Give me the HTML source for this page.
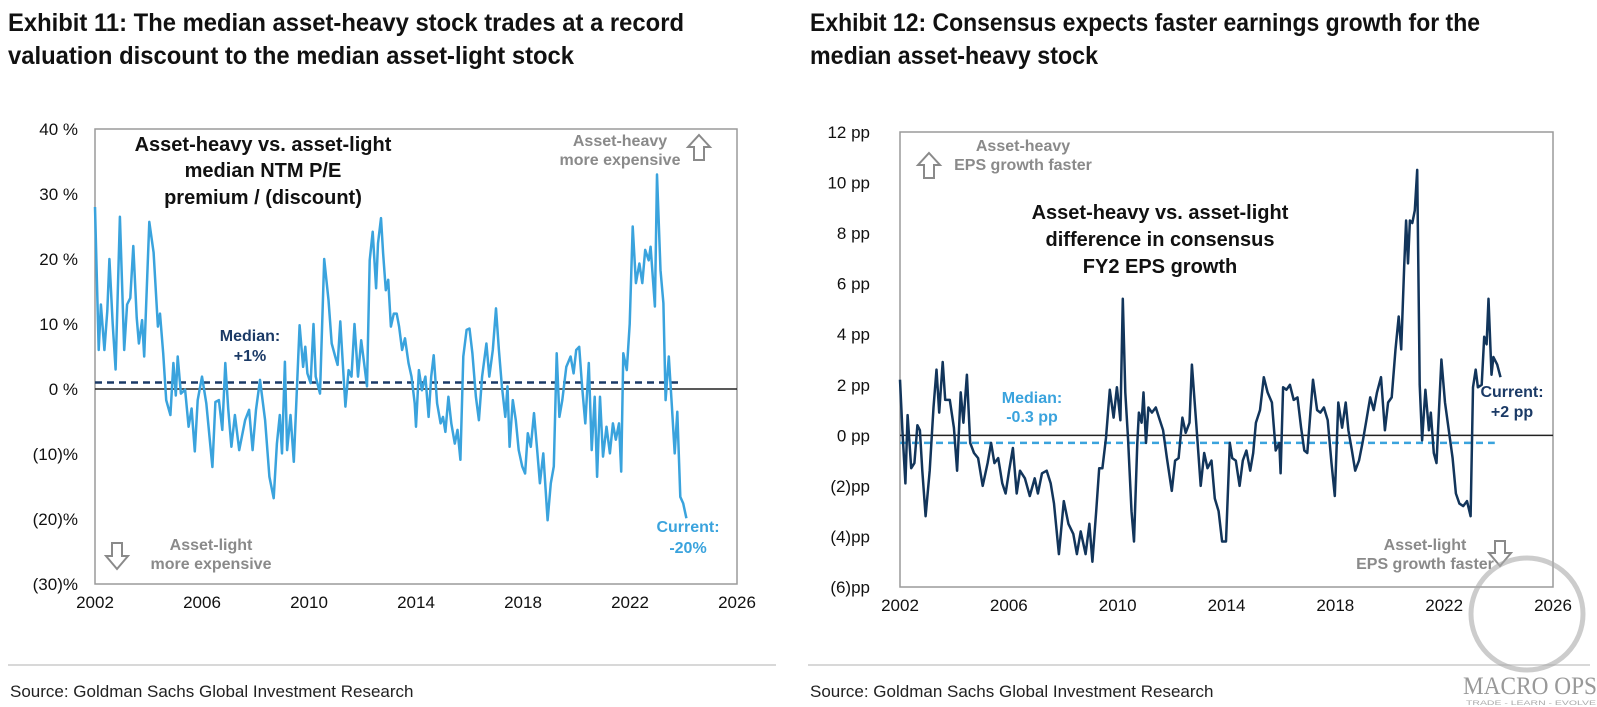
<!DOCTYPE html>
<html><head><meta charset="utf-8"><style>
html,body{margin:0;padding:0;background:#fff;}
svg{display:block;font-family:"Liberation Sans",Arial,sans-serif;}
.t{font-family:"Liberation Sans Narrow","Liberation Sans",sans-serif;font-weight:bold;font-size:25px;fill:#111;}
.src{font-family:"Liberation Sans Narrow","Liberation Sans",sans-serif;font-size:17px;fill:#222;}
.tick{font-size:17px;fill:#111;}
.ann{font-weight:bold;font-size:20px;fill:#111;}
.gray{font-weight:bold;font-size:16px;fill:#8a8a8a;}
</style></head><body>
<svg id="svg" width="1597" height="707" viewBox="0 0 1597 707">
<text class="t" x="8" y="31" textLength="676" lengthAdjust="spacingAndGlyphs">Exhibit 11: The median asset-heavy stock trades at a record</text>
<text class="t" x="8" y="64" textLength="566" lengthAdjust="spacingAndGlyphs">valuation discount to the median asset-light stock</text>
<text class="t" x="810" y="31" textLength="670" lengthAdjust="spacingAndGlyphs">Exhibit 12: Consensus expects faster earnings growth for the</text>
<text class="t" x="810" y="64" textLength="288" lengthAdjust="spacingAndGlyphs">median asset-heavy stock</text>

<g id="left"></g>
<g id="right"></g>

<text class="ann" text-anchor="middle" x="263" y="151">Asset-heavy vs. asset-light</text>
<text class="ann" text-anchor="middle" x="263" y="177">median NTM P/E</text>
<text class="ann" text-anchor="middle" x="263" y="204">premium / (discount)</text>
<text class="gray" text-anchor="middle" x="620" y="146">Asset-heavy</text>
<text class="gray" text-anchor="middle" x="620" y="165">more expensive</text>
<path d="M699,135 L710,147 L704,147 L704,160 L694,160 L694,147 L688,147 Z" fill="none" stroke="#8a8a8a" stroke-width="2"/>
<text class="gray" text-anchor="middle" x="211" y="550">Asset-light</text>
<text class="gray" text-anchor="middle" x="211" y="569">more expensive</text>
<path d="M112,543 L122,543 L122,556 L128,556 L117,569 L106,556 L112,556 Z" fill="none" stroke="#8a8a8a" stroke-width="2"/>
<text text-anchor="middle" x="250" y="341" style="font-weight:bold;font-size:16px;fill:#1b3a66">Median:</text>
<text text-anchor="middle" x="250" y="361" style="font-weight:bold;font-size:16px;fill:#1b3a66">+1%</text>
<text text-anchor="middle" x="688" y="532" style="font-weight:bold;font-size:16px;fill:#3aa3dd">Current:</text>
<text text-anchor="middle" x="688" y="553" style="font-weight:bold;font-size:16px;fill:#3aa3dd">-20%</text>

<text class="ann" text-anchor="middle" x="1160" y="219">Asset-heavy vs. asset-light</text>
<text class="ann" text-anchor="middle" x="1160" y="246">difference in consensus</text>
<text class="ann" text-anchor="middle" x="1160" y="273">FY2 EPS growth</text>
<text class="gray" text-anchor="middle" x="1023" y="151">Asset-heavy</text>
<text class="gray" text-anchor="middle" x="1023" y="170">EPS growth faster</text>
<path d="M929,153 L940,165 L934,165 L934,178 L924,178 L924,165 L918,165 Z" fill="none" stroke="#8a8a8a" stroke-width="2"/>
<text class="gray" text-anchor="middle" x="1425" y="550">Asset-light</text>
<text class="gray" text-anchor="middle" x="1425" y="569">EPS growth faster</text>
<path d="M1495,541 L1505,541 L1505,553 L1511,553 L1500,566 L1489,553 L1495,553 Z" fill="none" stroke="#8a8a8a" stroke-width="2"/>
<text text-anchor="middle" x="1032" y="403" style="font-weight:bold;font-size:16px;fill:#3aa3dd">Median:</text>
<text text-anchor="middle" x="1032" y="422" style="font-weight:bold;font-size:16px;fill:#3aa3dd">-0.3 pp</text>
<text text-anchor="middle" x="1512" y="397" style="font-weight:bold;font-size:16px;fill:#1b3a66">Current:</text>
<text text-anchor="middle" x="1512" y="417" style="font-weight:bold;font-size:16px;fill:#1b3a66">+2 pp</text>

<line x1="8" y1="665" x2="776" y2="665" stroke="#d8d8d8" stroke-width="2"/>
<line x1="808" y1="665" x2="1590" y2="665" stroke="#d8d8d8" stroke-width="2"/>
<text class="src" x="10" y="697">Source: Goldman Sachs Global Investment Research</text>
<text class="src" x="810" y="697">Source: Goldman Sachs Global Investment Research</text>

<circle cx="1527" cy="614" r="56" fill="none" stroke="#aaa" stroke-width="5" opacity="0.6"/>
<text x="1463" y="694" textLength="134" lengthAdjust="spacingAndGlyphs" style="font-family:'Liberation Serif',serif;font-size:25px;fill:#999">MACRO OPS</text>
<text x="1466" y="705" textLength="130" lengthAdjust="spacingAndGlyphs" style="font-size:6px;fill:#aaa">TRADE - LEARN - EVOLVE</text>
</svg>
<script>
const leftYears=[2002.00,2002.14,2002.22,2002.35,2002.46,2002.54,2002.66,2002.77,2002.93,2003.09,2003.20,2003.32,2003.43,2003.56,2003.64,2003.76,2003.84,2004.03,2004.19,2004.35,2004.43,2004.55,2004.66,2004.82,2004.93,2005.02,2005.09,2005.21,2005.37,2005.50,2005.61,2005.73,2005.84,2006.00,2006.16,2006.39,2006.50,2006.63,2006.76,2006.87,2006.98,2007.10,2007.23,2007.39,2007.61,2007.76,2007.89,2008.02,2008.17,2008.36,2008.52,2008.68,2008.80,2008.91,2008.99,2009.10,2009.18,2009.31,2009.43,2009.54,2009.65,2009.78,2009.86,2009.94,2010.06,2010.17,2010.25,2010.41,2010.57,2010.73,2010.85,2010.98,2011.07,2011.17,2011.28,2011.36,2011.48,2011.59,2011.70,2011.83,2011.95,2012.06,2012.17,2012.27,2012.38,2012.51,2012.58,2012.69,2012.77,2012.87,2012.96,2013.06,2013.17,2013.28,2013.37,2013.48,2013.59,2013.72,2013.83,2013.95,2014.00,2014.11,2014.22,2014.35,2014.47,2014.57,2014.66,2014.79,2014.92,2015.01,2015.10,2015.21,2015.32,2015.45,2015.55,2015.66,2015.77,2015.89,2016.00,2016.11,2016.24,2016.35,2016.47,2016.63,2016.74,2016.87,2016.99,2017.10,2017.21,2017.34,2017.42,2017.50,2017.62,2017.73,2017.84,2017.97,2018.08,2018.18,2018.29,2018.41,2018.52,2018.63,2018.76,2018.92,2019.04,2019.15,2019.26,2019.36,2019.47,2019.62,2019.78,2019.89,2019.99,2020.10,2020.21,2020.33,2020.46,2020.57,2020.68,2020.77,2020.88,2020.99,2021.12,2021.25,2021.36,2021.47,2021.59,2021.67,2021.75,2021.88,2021.99,2022.10,2022.22,2022.35,2022.46,2022.57,2022.70,2022.77,2022.93,2023.01,2023.14,2023.25,2023.33,2023.45,2023.56,2023.67,2023.77,2023.88,2023.99,2024.11];
const leftValues=[28,6,13,6,12,20,10,3,26.5,6,13,14,22,11,7,10.6,5,25.7,21,9.6,11.6,5.5,-1.7,-4,4,-1,5,-0.7,-0.1,-5.8,-3,-9.6,-1.7,1.9,-2.2,-12,-2,-1.7,-6.3,4,-3,-8.9,-4,-9.4,-4.8,-3.2,-9.4,-3.2,1.4,-4.8,-13.5,-16.8,-8.4,-4,-9.9,4.2,-9.4,-4,-11.2,-0.7,9.8,3.4,6.5,2.4,0.9,10,1.9,-0.7,20,13.7,7,5,3.7,10.4,2.9,-2.7,2.9,1.9,10,1.9,7.5,4,0.4,19.8,24.2,15.5,22.4,26.3,20.9,15.2,16.8,9.6,11.6,11.6,9.6,6,7.8,4,1.9,-2.2,-5.8,2.9,-0.2,1.9,-4.3,1.9,5.2,-2.2,-5.3,-4.3,-6.6,-1.2,-5.3,-8.4,-6.3,-10.9,5,9.1,9.3,5.5,-1.2,-4.8,1.9,7,1.9,6,12.4,6,0.4,-4.3,0.4,-8.9,-1.7,-4.8,-9.4,-11.9,-13,-6.8,-8.9,-3.7,-8.9,-14.5,-9.9,-20.2,-14.5,-11.9,5.5,-4.3,-1.7,3.4,5,2.4,6,6.5,0.4,-5.3,4,-9.4,-1.2,-13.5,-1.2,-10.4,-5.8,-9.9,-5.3,-7.8,-5.3,-12.7,5.5,2.9,10,25,16.3,19.3,16.3,21.4,19.8,21.9,12.7,33,18.3,13.2,-1.7,5,-2.2,-9.9,-3.5,-16.6,-17.6,-19.9];
const leftMedian=1;
const leftTicks=[40,30,20,10,0,-10,-20,-30];
const leftTickLabels=["40 %","30 %","20 %","10 %","0 %","(10)%","(20)%","(30)%"];

const rightYears=[2002.00,2002.09,2002.20,2002.28,2002.41,2002.53,2002.64,2002.73,2002.82,2002.94,2003.09,2003.23,2003.34,2003.44,2003.57,2003.66,2003.83,2003.98,2004.10,2004.23,2004.33,2004.46,2004.58,2004.72,2004.87,2005.04,2005.22,2005.35,2005.47,2005.61,2005.76,2005.88,2006.01,2006.15,2006.29,2006.41,2006.59,2006.77,2006.95,2007.07,2007.22,2007.39,2007.54,2007.66,2007.84,2008.02,2008.19,2008.37,2008.50,2008.64,2008.82,2008.96,2009.07,2009.21,2009.32,2009.44,2009.57,2009.71,2009.85,2009.97,2010.10,2010.19,2010.28,2010.38,2010.51,2010.60,2010.72,2010.78,2010.88,2010.95,2011.04,2011.13,2011.26,2011.40,2011.52,2011.67,2011.81,2011.99,2012.11,2012.24,2012.38,2012.50,2012.64,2012.73,2012.88,2013.05,2013.18,2013.30,2013.45,2013.57,2013.71,2013.84,2013.98,2014.12,2014.21,2014.34,2014.48,2014.60,2014.73,2014.87,2014.98,2015.08,2015.23,2015.37,2015.51,2015.67,2015.81,2015.94,2015.99,2016.08,2016.20,2016.33,2016.47,2016.61,2016.74,2016.86,2016.97,2017.09,2017.18,2017.33,2017.45,2017.58,2017.72,2017.86,2017.98,2018.11,2018.25,2018.38,2018.48,2018.61,2018.73,2018.87,2019.00,2019.14,2019.28,2019.41,2019.53,2019.68,2019.82,2019.94,2020.07,2020.21,2020.33,2020.42,2020.53,2020.60,2020.67,2020.74,2020.83,2020.92,2021.01,2021.10,2021.19,2021.31,2021.44,2021.51,2021.62,2021.72,2021.81,2021.90,2022.03,2022.17,2022.31,2022.43,2022.56,2022.70,2022.84,2022.97,2023.06,2023.16,2023.24,2023.38,2023.47,2023.56,2023.63,2023.74,2023.81,2023.95,2024.07];
const rightValues=[2.2,0.2,-1.9,0.8,-1.3,-1.1,0.4,0.2,-1.4,-3.2,-1.4,1.1,2.6,0.9,2.9,1.4,1.4,0.3,-1.4,1.7,0.5,2.4,-0.3,-0.7,-0.9,-2.0,-1.1,-0.3,-1.1,-0.9,-1.9,-2.3,-1.4,-0.5,-2.3,-1.4,-1.7,-2.4,-1.7,-2.3,-1.5,-1.4,-1.9,-2.7,-4.7,-2.6,-3.5,-3.9,-4.7,-3.8,-4.7,-3.5,-5.0,-3.0,-1.3,-1.3,-0.1,1.8,0.7,1.9,0.6,5.4,1.7,-0.1,-3.0,-4.2,-0.3,0.9,0.5,1.7,-0.3,1.1,0.9,1.1,0.7,0.2,-0.9,-2.2,-1.0,-0.9,0.7,0.1,0.5,2.8,0.6,-2.0,-0.7,-1.3,-1.0,-2.5,-3.0,-4.2,-4.2,-0.3,-0.9,-1.0,-2.0,-1.0,-0.6,-1.4,-0.7,0.5,1.0,2.3,1.7,1.3,-0.6,-0.3,-1.5,1.9,1.8,2.0,1.4,1.5,0.3,-0.6,-0.7,1.0,2.2,1.0,0.9,1.1,0.6,-1.1,-2.4,1.3,0.3,1.3,0.2,-0.6,-1.4,-1.0,-0.3,0.6,1.5,1.0,1.7,2.3,0.2,1.3,1.5,3.4,4.7,3.4,6.7,8.5,6.8,8.5,8.4,8.9,10.5,2.0,-0.2,1.8,0.2,0.9,-0.7,-1.1,1.0,3.0,1.3,0.2,-0.9,-2.3,-2.7,-2.8,-2.6,-3.2,1.9,2.6,1.9,2.0,3.9,3.6,5.4,2.4,3.1,2.8,2.3];
const rightMedian=-0.3;
const rightTicks=[12,10,8,6,4,2,0,-2,-4,-6];
const rightTickLabels=["12 pp","10 pp","8 pp","6 pp","4 pp","2 pp","0 pp","(2)pp","(4)pp","(6)pp"];

const xTicks=[2002,2006,2010,2014,2018,2022,2026];

const NS="http://www.w3.org/2000/svg";
function mk(parent,tag,attrs){const e=document.createElementNS(NS,tag);for(const k in attrs)e.setAttribute(k,attrs[k]);parent.appendChild(e);return e;}

function drawChart(g,cfg){
  const xs=y=>cfg.x0+(y-2002)/24*(cfg.x1-cfg.x0);
  const ys=v=>cfg.y0+(cfg.vmax-v)/(cfg.vmax-cfg.vmin)*(cfg.y1-cfg.y0);
  const box=mk(g,'rect',{x:cfg.x0,y:cfg.y0,width:cfg.x1-cfg.x0,height:cfg.y1-cfg.y0,fill:'none',stroke:'#9a9a9a','stroke-width':1.5});
  
  
  cfg.ticks.forEach((t,i)=>{
    const tx=mk(g,'text',{x:cfg.labelX,y:ys(t)+6,'text-anchor':'end','class':'tick'});
    tx.textContent=cfg.labels[i];
    
    
  });
  xTicks.forEach(t=>{
    const tx=mk(g,'text',{x:xs(t),y:cfg.y1+24,'text-anchor':'middle','class':'tick'});
    tx.textContent=String(t);
    
    
  });
  const zl=mk(g,'line',{x1:cfg.x0,x2:cfg.x1,y1:ys(0),y2:ys(0),stroke:'#222','stroke-width':1.5});
  
  
  const ml=mk(g,'line',{x1:cfg.x0,x2:xs(cfg.medEnd),y1:ys(cfg.median),y2:ys(cfg.median),stroke:cfg.medColor,'stroke-width':2.5,'stroke-dasharray':'7,5'});
  
  
  const d=cfg.years.map((y,i)=>(i?'L':'M')+xs(y).toFixed(1)+','+ys(cfg.values[i]).toFixed(1)).join(' ');
  const pl=mk(g,'path',{d:d,fill:'none',stroke:cfg.color,'stroke-width':2.5,'stroke-linejoin':'round'});
  
  
}
drawChart(document.getElementById('left'),{p:'left',x0:95,x1:737,y0:129,y1:584,vmax:40,vmin:-30,ticks:leftTicks,labels:leftTickLabels,labelX:78,years:leftYears,values:leftValues,median:leftMedian,medEnd:2023.88,color:'#3aa3dd',medColor:'#1b3a66'});
drawChart(document.getElementById('right'),{p:'right',x0:900,x1:1553,y0:132,y1:587,vmax:12,vmin:-6,ticks:rightTicks,labels:rightTickLabels,labelX:870,years:rightYears,values:rightValues,median:rightMedian,medEnd:2023.86,color:'#12355b',medColor:'#3aa3dd'});
</script>
</body></html>
